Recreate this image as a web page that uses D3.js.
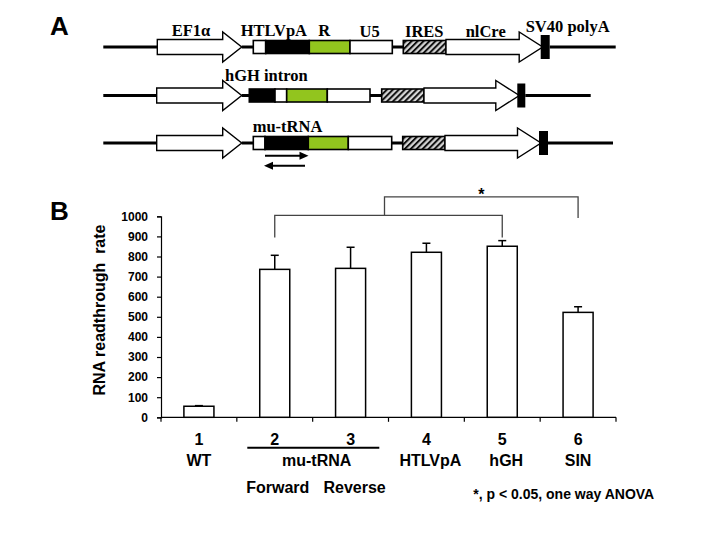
<!DOCTYPE html>
<html><head><meta charset="utf-8">
<script src="https://cdn.jsdelivr.net/npm/d3@7"></script>
<style>
html,body{margin:0;padding:0;background:#fff;}
svg{display:block;}
text{font-family:Arial,"Liberation Sans",sans-serif;}
.serif{font-family:"Times New Roman","Liberation Serif",serif;font-weight:bold;font-size:16.5px;}
</style></head>
<body>
<script>
// ---------- Panel B data ----------
const categories = ["1","2","3","4","5","6"];
const groupLabels = ["WT","","","HTLVpA","hGH","SIN"];
const means = [55, 736, 741, 821, 851, 522];
const errors = [3, 70, 105, 45, 28, 28];
const yTicks = [0,100,200,300,400,500,600,700,800,900,1000];
const subLabels = ["Forward","Reverse"];
const yTitle = "RNA readthrough  rate";
const footnote = "*, p < 0.05, one way ANOVA";

// ---------- Panel A schematic (element type, length) ----------
const construct1 = [["line",54],["prom",84.4],["line",11.6],["white",12.4],["black",43.6],["green",40.7],["white",42.3],["line",11],["hatch",42.7],["cre",96.7],["sv40",9],["line",66]];
const construct2 = [["line",53.4],["prom",85],["line",7.6],["black",25.7],["white",11.7],["green",40.6],["white",42.7],["line",11.7],["hatch",42.3],["cre",95.3],["sv40",8],["line",65.4]];
const construct3 = [["line",53.4],["prom",85],["line",11.6],["white",11.7],["black",43.3],["green",40],["white",43.4],["line",11],["hatch",42.3],["cre",96],["sv40",9],["line",65]];

const W = 720, H = 540;
const svg = d3.select("body").append("svg").attr("width", W).attr("height", H);
svg.append("rect").attr("width", W).attr("height", H).attr("fill", "#fff");

const defs = svg.append("defs");
const pat = defs.append("pattern").attr("id","hatch").attr("patternUnits","userSpaceOnUse")
  .attr("width",4.2).attr("height",4.2).attr("patternTransform","rotate(45)");
pat.append("rect").attr("width",4.2).attr("height",4.2).attr("fill","#d8d8d8");
pat.append("rect").attr("x",0).attr("y",0).attr("width",2).attr("height",4.2).attr("fill","#111");

// Panel labels
svg.append("text").attr("x",50).attr("y",35).attr("font-size",26).attr("font-weight","bold").text("A");
svg.append("text").attr("x",50).attr("y",220).attr("font-size",26).attr("font-weight","bold").text("B");

// ---------- Draw constructs ----------
const sx = d3.scaleLinear().domain([0,1]).range([103.3,104.3]);
function drawConstruct(data, cy){
  const g = svg.append("g");
  let pos = 0;
  const items = data.map(([type,len]) => {
    let start = pos;
    if (type === "sv40") start = pos - 2;
    const it = {type, x0: sx(start), x1: sx(start+len)};
    pos = start + len;
    return it;
  });
  items.filter(d=>d.type==="line").forEach(d=>{
    g.append("line").attr("x1",d.x0).attr("x2",d.x1).attr("y1",cy).attr("y2",cy)
     .attr("stroke","#000").attr("stroke-width",3);
  });
  items.forEach(d=>{
    if (["white","black","green","hatch"].includes(d.type)){
      const fill = d.type==="white"?"#fff":d.type==="black"?"#000":d.type==="green"?"#92c51e":"url(#hatch)";
      g.append("rect").attr("x",d.x0).attr("y",cy-6.5).attr("width",d.x1-d.x0).attr("height",13)
       .attr("fill",fill).attr("stroke","#000").attr("stroke-width",1.6);
    } else if (d.type==="prom" || d.type==="cre"){
      const head = d.type==="prom"?19:23.5;
      const bh = 7.5, hh = 15;
      const xb = d.x1 - head;
      const p = d3.path();
      p.moveTo(d.x0, cy-bh); p.lineTo(xb, cy-bh); p.lineTo(xb, cy-hh); p.lineTo(d.x1, cy);
      p.lineTo(xb, cy+hh); p.lineTo(xb, cy+bh); p.lineTo(d.x0, cy+bh); p.closePath();
      g.append("path").attr("d",p.toString()).attr("fill","#fff").attr("stroke","#000").attr("stroke-width",1.4);
    }
  });
  items.filter(d=>d.type==="sv40").forEach(d=>{
    g.append("rect").attr("x",d.x0).attr("y",cy-12).attr("width",d.x1-d.x0).attr("height",24).attr("fill","#000");
  });
}
drawConstruct(construct1, 47);
drawConstruct(construct2, 95.5);
drawConstruct(construct3, 143);

// schematic labels
const aLabels = [["EF1\u03b1",171.7,36],["HTLVpA",240.7,36],["R",318.3,36],["U5",359.5,37],["IRES",405,37],["nlCre",465.7,37],["SV40 polyA",525.7,31.5],["hGH intron",225,81],["mu-tRNA",252.7,131.7]];
aLabels.forEach(([t,x,y])=> svg.append("text").attr("class","serif").attr("x",x).attr("y",y).text(t));

// primer arrows
function primer(x0,x1,y){
  const dir = Math.sign(x1-x0);
  svg.append("line").attr("x1",x0).attr("x2",x1-dir*8).attr("y1",y).attr("y2",y).attr("stroke","#000").attr("stroke-width",2);
  svg.append("path").attr("d",`M${x1},${y}L${x1-dir*9},${y-4}L${x1-dir*9},${y+4}Z`).attr("fill","#000");
}
primer(265,308.5,155.7);
primer(305,264,165.7);

// ---------- Panel B chart ----------
const x = d3.scaleBand().domain(categories).range([161,616]).padding(0);
const y = d3.scaleLinear().domain([0,1000]).range([417.3,216.3]);
const bw = x.bandwidth()*0.396;
const cx = c => x(c) + x.bandwidth()/2;

const yAxis = svg.append("g").attr("transform","translate(161,0)")
  .call(d3.axisLeft(y).tickValues(yTicks).tickSize(4).tickPadding(9).tickFormat(d3.format("d")));
yAxis.select(".domain").attr("stroke","#000").attr("stroke-width",1.2);
yAxis.selectAll(".tick line").attr("stroke","#000").attr("stroke-width",1.2);
yAxis.selectAll("text").attr("font-size",12).attr("font-weight","bold").attr("fill","#000")
  .attr("font-family","Arial, 'Liberation Sans', sans-serif");

// x axis line with ticks at band boundaries
const xg = svg.append("g");
xg.append("line").attr("x1",161).attr("x2",616).attr("y1",y(0)).attr("y2",y(0)).attr("stroke","#000").attr("stroke-width",1.2);
const bounds = categories.map(c=>x(c)).concat([x.range()[1]]);
xg.selectAll(".xt").data(bounds).join("line").attr("x1",d=>d).attr("x2",d=>d)
  .attr("y1",y(0)).attr("y2",y(0)+4.5).attr("stroke","#000").attr("stroke-width",1.2);

// error bars
const eb = svg.append("g");
categories.forEach((c,i)=>{
  eb.append("line").attr("x1",cx(c)).attr("x2",cx(c)).attr("y1",y(means[i])).attr("y2",y(means[i]+errors[i]))
    .attr("stroke","#000").attr("stroke-width",1.5);
  eb.append("line").attr("x1",cx(c)-4).attr("x2",cx(c)+4).attr("y1",y(means[i]+errors[i])).attr("y2",y(means[i]+errors[i]))
    .attr("stroke","#000").attr("stroke-width",1.5);
});
// bars
svg.append("g").selectAll("rect").data(categories).join("rect")
  .attr("x",c=>cx(c)-bw/2).attr("width",bw)
  .attr("y",(c,i)=>y(means[i])).attr("height",(c,i)=>y(0)-y(means[i]))
  .attr("fill","#fff").attr("stroke","#000").attr("stroke-width",1.5);

// significance brackets
const br = svg.append("g").attr("fill","none").attr("stroke","#444").attr("stroke-width",1.3);
const b1L = cx("2"), b1R = cx("5");
br.append("path").attr("d",`M${b1L},${y(895)}V${y(1005)}H${b1R}V${y(895)}`);
const b2L = (b1L+b1R)/2 - 4, b2R = cx("6");
br.append("path").attr("d",`M${b2L},${y(1005)}V${y(1097)}H${b2R}V${y(992)}`);
svg.append("text").attr("x",(b2L+b2R)/2).attr("y",y(1097)+3.5).attr("text-anchor","middle")
  .attr("font-size",16).attr("font-weight","bold").text("*");

// category numbers and names
const xl = svg.append("g").attr("font-weight","bold").attr("font-size",16).attr("text-anchor","middle");
categories.forEach((c,i)=>{
  xl.append("text").attr("x",cx(c)).attr("y",444.5).text(c);
  if (groupLabels[i]) xl.append("text").attr("x",cx(c)+(i===3||i===4?4:0)).attr("y",465.7).text(groupLabels[i]);
});
const muMid = (cx("2")+cx("3"))/2 + 4;
xl.append("text").attr("x",muMid).attr("y",465.7).text("mu-tRNA");
svg.append("line").attr("x1",247.3).attr("x2",379.3).attr("y1",447.7).attr("y2",447.7).attr("stroke","#000").attr("stroke-width",2);
xl.append("text").attr("x",cx("2")+3).attr("y",493.3).text(subLabels[0]);
xl.append("text").attr("x",cx("3")+4).attr("y",493.3).text(subLabels[1]);

// y title
svg.append("text").attr("transform","translate(105,310) rotate(-90)").attr("text-anchor","middle")
  .attr("font-size",16).attr("font-weight","bold").style("white-space","pre").text(yTitle);

// footnote
svg.append("text").attr("x",473.3).attr("y",499).attr("font-size",14).attr("font-weight","bold").text(footnote);
</script>
</body></html>
